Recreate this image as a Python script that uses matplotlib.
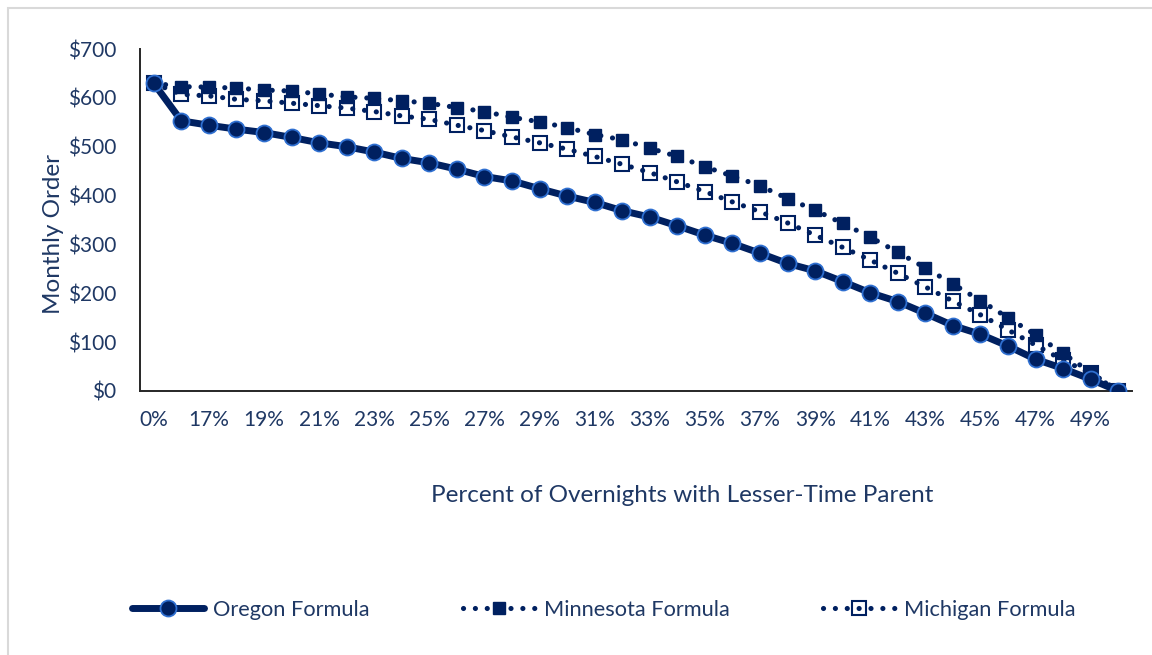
import numpy as np
import matplotlib
matplotlib.use('Agg')
import matplotlib.pyplot as plt
from matplotlib.patches import Rectangle

plt.rcParams['font.family'] = ['Lato', 'DejaVu Sans']

# data
pct = [0] + list(range(16, 51))
labels = [f'{p}%' for p in pct]

oregon = [630, 553, 544, 536, 529, 519, 508, 500, 489, 476, 467, 454, 439, 430,
          414, 399, 386, 369, 356, 338, 319, 302, 282, 261, 246, 224, 201, 183,
          159, 134, 116, 92, 65, 46, 24, 0]
minnesota = [630, 623, 622, 620, 616, 614, 608, 602, 599, 594, 589, 580, 572, 560,
             551, 539, 525, 514, 497, 480, 459, 440, 420, 394, 370, 343, 315, 284,
             252, 219, 185, 150, 115, 77, 38, 0]
michigan = [630, 607, 604, 597, 594, 589, 584, 579, 572, 563, 556, 544, 533, 520,
            508, 495, 480, 464, 447, 428, 408, 387, 367, 344, 319, 294, 268, 241,
            213, 184, 156, 125, 94, 63, 36, 0]

navy = '#002060'
text_col = '#1F3864'

fig = plt.figure(figsize=(11.52, 6.55), dpi=100)
ax = fig.add_axes([140 / 1152, 1 - 391 / 655, 992 / 1152, 342 / 655])

x = np.arange(len(pct))
dots = (0, (0.01, 2.3))

ax.plot(x, minnesota, color=navy, lw=3.7, linestyle=dots, dash_capstyle='round',
        marker='s', ms=8.5, mfc=navy, mec=navy, label='Minnesota Formula', zorder=3)
ax.plot(x, michigan, color=navy, lw=3.7, linestyle=dots, dash_capstyle='round',
        marker='s', ms=9.5, mfc='none', mec=navy, mew=1.5, label='Michigan Formula', zorder=3)
ax.plot(x, oregon, color=navy, lw=5, solid_capstyle='round',
        marker='o', ms=11.5, mfc=navy, mec='#2F6FD0', mew=1.3, label='Oregon Formula', zorder=4)

ax.set_xlim(-0.5, len(pct) - 0.5)
ax.set_ylim(0, 700)
ax.set_yticks(range(0, 701, 100))
ax.set_yticklabels([f'${v}' for v in range(0, 701, 100)])
ax.set_xticks(x[::2])
ax.set_xticklabels(labels[::2])
ax.tick_params(length=0, labelsize=15, colors=text_col)
ax.tick_params(axis='y', pad=17)
ax.tick_params(axis='x', pad=14)

for s in ['top', 'right']:
    ax.spines[s].set_visible(False)
for s in ['left', 'bottom']:
    ax.spines[s].set_color('#262626')
    ax.spines[s].set_linewidth(1.4)

fig.text(682 / 1152, 1 - 495 / 655, 'Percent of Overnights with Lesser-Time Parent',
         ha='center', va='center', fontsize=17.5, color=text_col)
fig.text(54 / 1152, 1 - 234 / 655, 'Monthly Order', rotation=90,
         ha='center', va='center', fontsize=17.5, color=text_col)

h, l = ax.get_legend_handles_labels()
order = [2, 0, 1]
leg = fig.legend([h[i] for i in order], [l[i] for i in order], loc='center',
                 bbox_to_anchor=(604 / 1152, 1 - 610 / 655), ncol=3, frameon=False,
                 fontsize=15.7, handlelength=3.3, handletextpad=0.4, columnspacing=4.3,
                 numpoints=1)
for t in leg.get_texts():
    t.set_color(text_col)

# light chart border
fig.patches.append(Rectangle((8 / 1152, -0.1), 1.2, 1 - 8 / 655 + 0.1,
                             transform=fig.transFigure, fill=False,
                             edgecolor='#d9d9d9', lw=1.5))

fig.savefig('out.png', dpi=100)
